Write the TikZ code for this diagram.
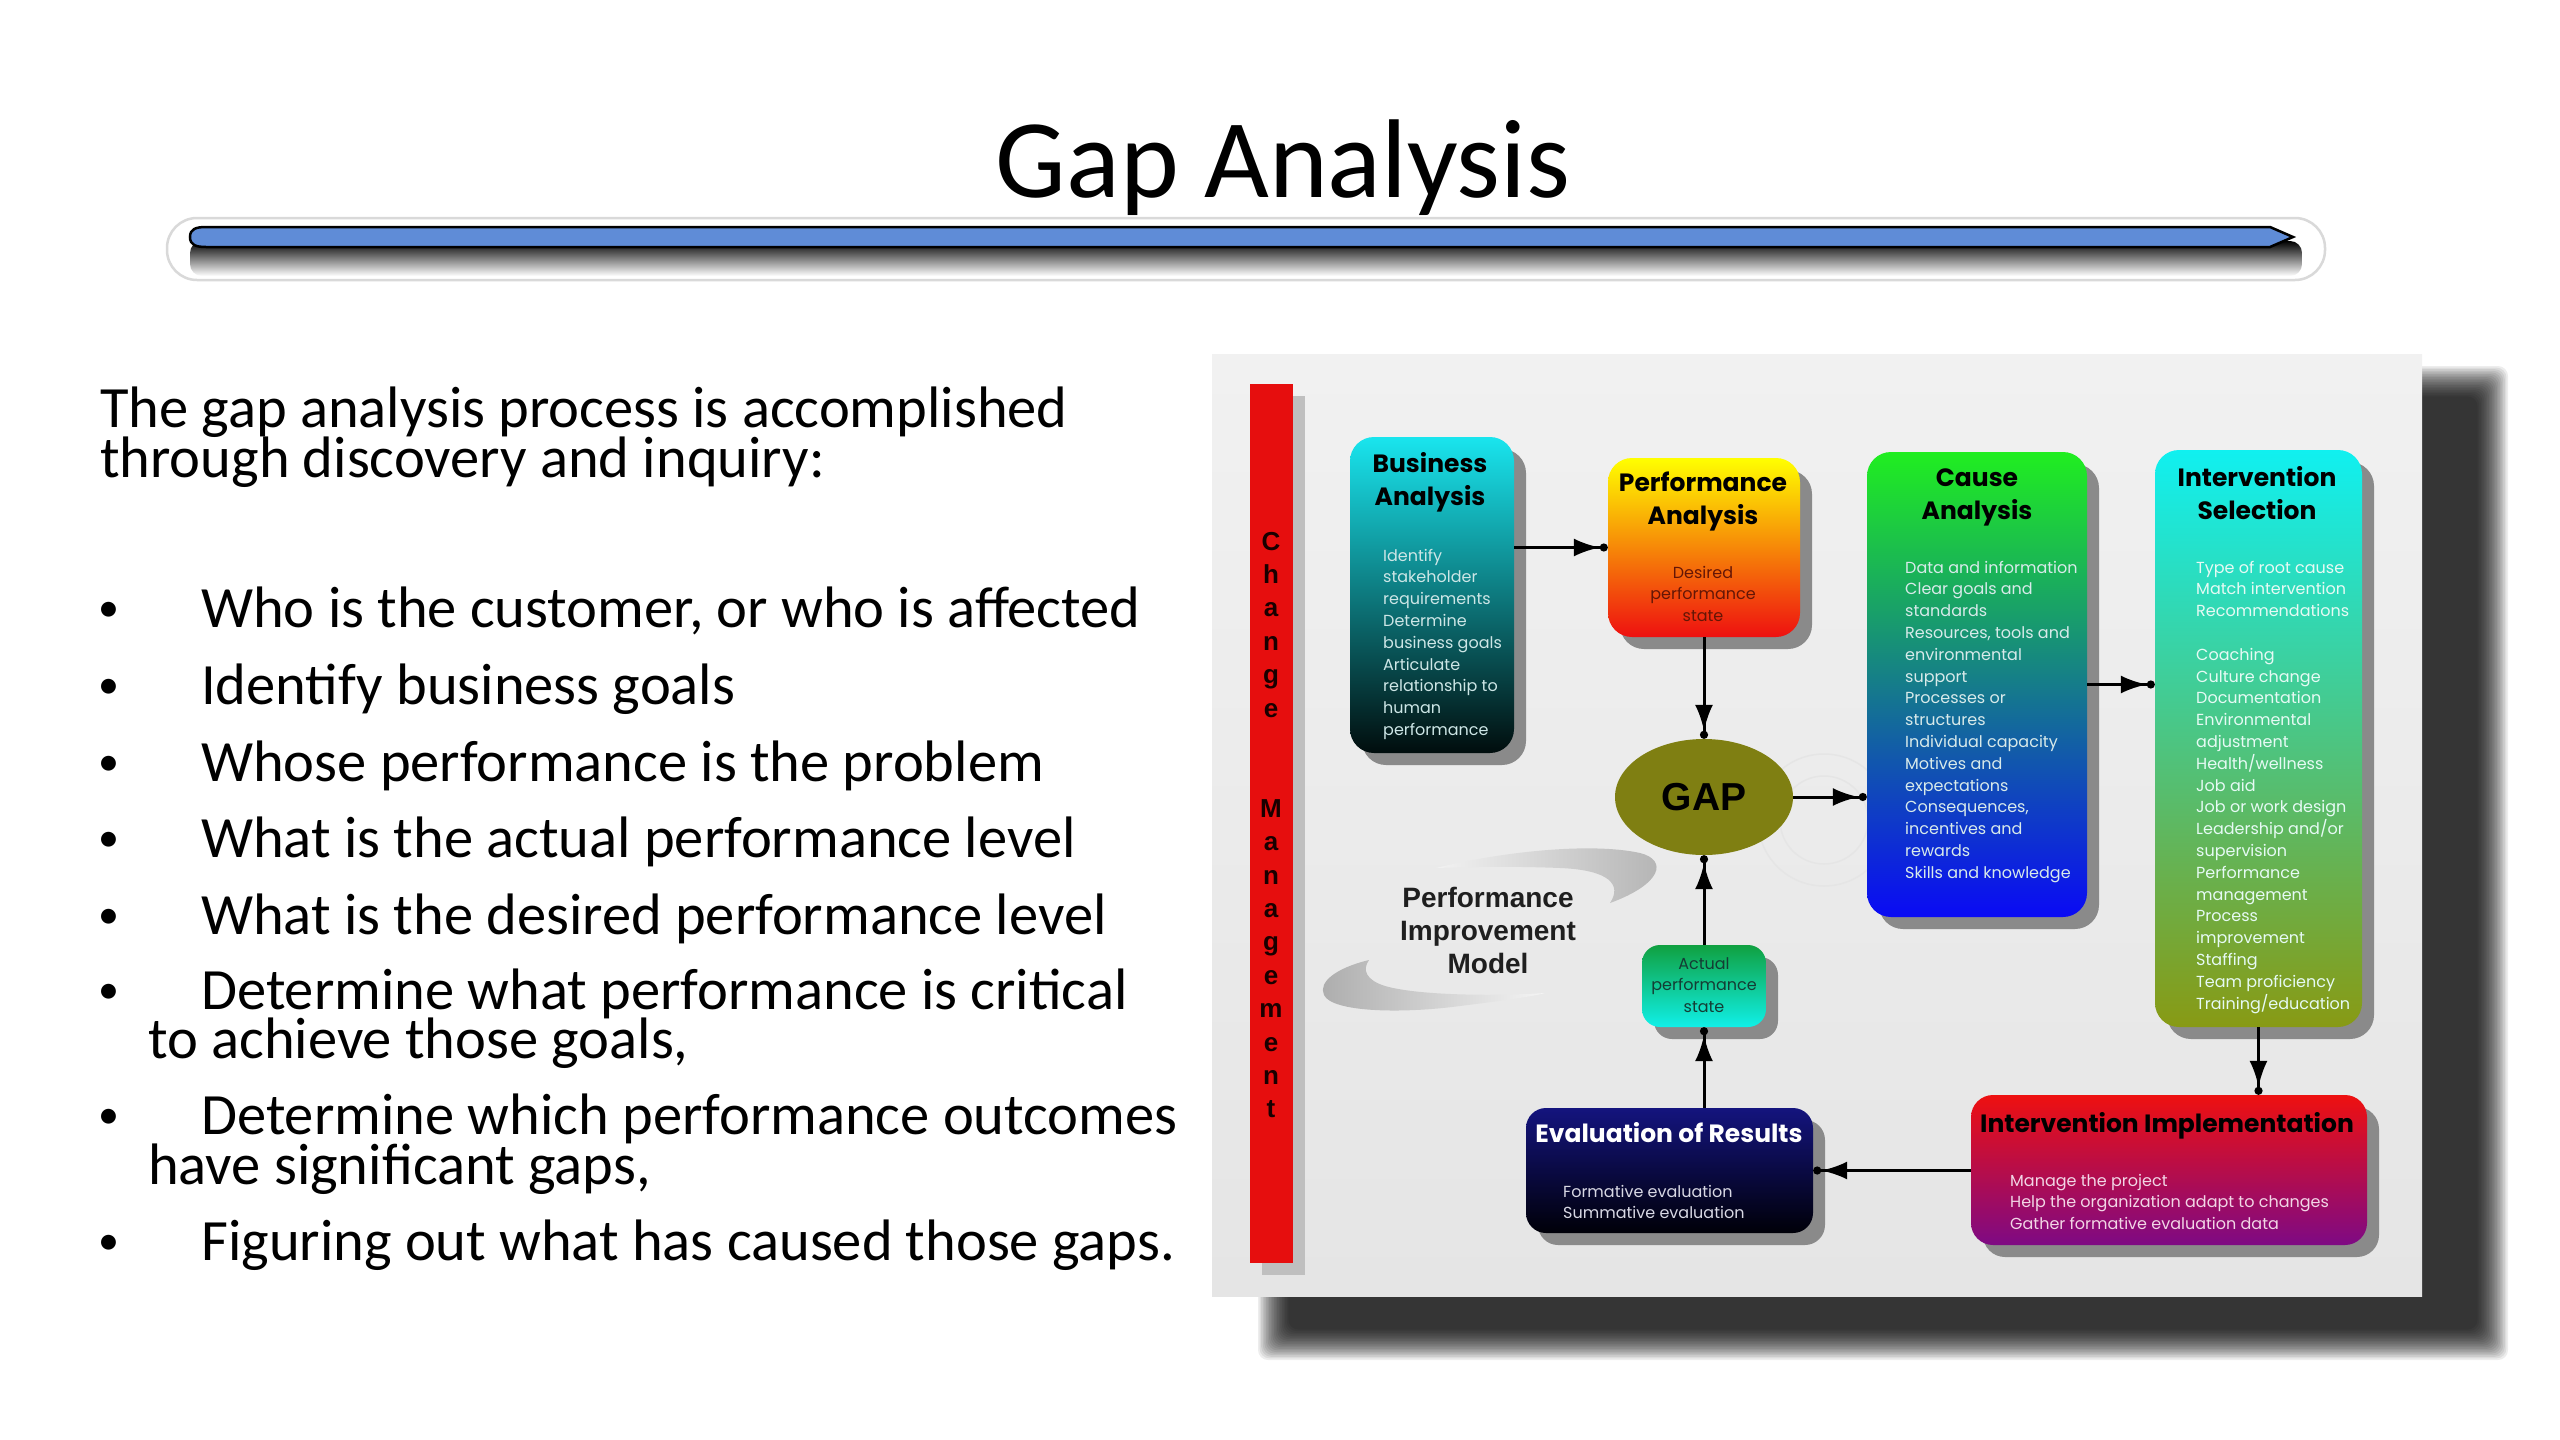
\documentclass[tikz,border=0pt]{standalone}
\usepackage{fontspec}
\setmainfont{Carlito}
\newfontfamily\pop{Poppins}
\newfontfamily\ari{Liberation Sans}
\usetikzlibrary{shapes.geometric,arrows.meta,shadows,calc}
\definecolor{barblue}{RGB}{95,140,215}
\definecolor{panelt}{HTML}{F1F1F1}
\definecolor{panelb}{HTML}{E5E5E5}
\definecolor{redbar}{HTML}{E60E0E}
\definecolor{gapcol}{HTML}{7F7F12}
\definecolor{baT}{HTML}{19E5EE}\definecolor{baM}{HTML}{0B7C84}\definecolor{baB}{HTML}{010D0D}
\definecolor{paT}{HTML}{FFFF00}\definecolor{paM}{HTML}{FF8C1A}\definecolor{paB}{HTML}{EE1010}
\definecolor{caT}{HTML}{20EE20}\definecolor{caM}{HTML}{0A7078}\definecolor{caB}{HTML}{0A0AF5}
\definecolor{isT}{HTML}{10F0F0}\definecolor{isM}{HTML}{40BC8C}\definecolor{isB}{HTML}{889A14}
\definecolor{acT}{HTML}{10A040}\definecolor{acB}{HTML}{10F0E8}
\definecolor{evT}{HTML}{14147E}\definecolor{evB}{HTML}{000008}
\definecolor{imT}{HTML}{EE1010}\definecolor{imM}{HTML}{CC1044}\definecolor{imB}{HTML}{7E0A84}
\definecolor{batxt}{HTML}{CDE6E6}
\definecolor{catxt}{HTML}{D8EAEA}
\definecolor{istxt}{HTML}{E6FAF4}
\definecolor{patxt}{HTML}{641606}
\definecolor{actxt}{HTML}{143C34}
\definecolor{evtxt}{HTML}{D8D8E4}
\definecolor{imtxt}{HTML}{F2D6E6}
\begin{document}
\begin{tikzpicture}[x=1pt,y=-1pt,
  lt/.style={anchor=base west, inner sep=0pt, font=\fontsize{58.5}{60}\selectfont},
  bl/.style={anchor=base west, inner sep=0pt, font=\fontsize{42}{42}\selectfont},
  box/.style={draw=none, rounded corners=24pt, inner sep=0pt,
    drop shadow={shadow xshift=12pt, shadow yshift=-12pt, fill=black!46, opacity=1}},
  ttl/.style={anchor=base, align=center, inner sep=0pt, font=\pop\bfseries\fontsize{25}{33}\selectfont},
  bdy/.style={anchor=base west, align=left, inner sep=0pt, font=\pop\fontsize{16}{21.8}\selectfont},
  bdyc/.style={anchor=base, align=center, inner sep=0pt, font=\pop\fontsize{16}{21.8}\selectfont},
  arr/.style={line width=3pt, -{Latex[length=26pt,width=18pt] Circle[length=8pt]}},
  cml/.style={anchor=base, inner sep=0pt, text=black!90!red, font=\ari\bfseries\fontsize{26}{26}\selectfont}
]
\useasboundingbox (0,0) rectangle (2560,1440);
\fill[white] (0,0) rectangle (2560,1440);

% ---------- title ----------
\node[anchor=base, inner sep=0pt, font=\fontsize{112}{112}\selectfont] (title) at (1283,197) {Gap Analysis};

% ---------- title bar ----------
\draw[gray!30, line width=2.5pt, fill=white, rounded corners=30pt] (167,218) rectangle (2325,280);
\shade[top color=black, bottom color=white, rounded corners=12pt] (190,241) rectangle (2302,276);
\filldraw[fill=barblue, draw=black, line width=2.5pt]
  (190,237) .. controls (190,229) and (196,227) .. (206,227) -- (2270,227) -- (2293,237)
  -- (2270,247) -- (206,247) .. controls (196,247) and (190,245) .. (190,237) -- cycle;

% ---------- left text ----------
\node[lt] (p1) at (100,427) {The gap analysis process is accomplished};
\node[lt] (p2) at (100,477) {through discovery and inquiry:};
\foreach \y/\n in {627/1,704/2,781/3,857/4,934/5,1009/6,1134/7,1260/8}
  \node[bl] (bul\n) at (98,\y-6) {•};
\node[lt] (t1) at (201,627) {Who is the customer, or who is affected};
\node[lt] (t2) at (201,704) {Identify business goals};
\node[lt] (t3) at (201,781) {Whose performance is the problem};
\node[lt] (t4) at (201,857) {What is the actual performance level};
\node[lt] (t5) at (201,934) {What is the desired performance level};
\node[lt] (t6) at (201,1009) {Determine what performance is critical};
\node[lt] (t6b) at (148,1058) {to achieve those goals,};
\node[lt] (t7) at (201,1134) {Determine which performance outcomes};
\node[lt] (t7b) at (148,1184) {have significant gaps,};
\node[lt] (t8) at (201,1260) {Figuring out what has caused those gaps.};

% ---------- panel shadow (soft edge) ----------
\foreach \i in {0,...,19}
  \fill[black, opacity=0.07, rounded corners=10pt] (1258+\i*1.6, 366+\i*1.6) rectangle (2508-\i*1.6, 1360-\i*1.6);
% ---------- panel ----------
\shade[top color=panelt, bottom color=panelb] (1212,354) rectangle (2422,1296);
\draw[white!80!gray, line width=1.5pt] (1824,820) circle[radius=44];
\draw[white!80!gray, line width=1.5pt] (1824,820) circle[radius=66];

% ---------- change management bar ----------
\fill[gray!50] (1262,396) rectangle (1305,1275);
\node[fill=redbar, minimum width=43pt, minimum height=879pt, inner sep=0pt] (cmbar) at (1271.5,823.5) {};
\foreach \l/\k in {C/0,h/1,a/2,n/3,g/4,e/5,M/8,a/9,n/10,a/11,g/12,e/13,m/14,e/15,n/16,t/17}
  \node[cml] (cm\k) at (1271,550+33.4*\k) {\l};

% ---------- swooshes ----------
\shade[left color=gray!10, right color=gray!60]
  (1436,868) .. controls (1500,852) and (1590,842) .. (1640,853)
  .. controls (1668,860) and (1662,884) .. (1610,903)
  .. controls (1622,885) and (1610,870) .. (1560,868)
  .. controls (1510,866) and (1466,867) .. (1436,868) -- cycle;
\shade[left color=gray!65, right color=gray!8]
  (1369,960) .. controls (1336,968) and (1318,982) .. (1324,995)
  .. controls (1332,1012) and (1400,1014) .. (1460,1006)
  .. controls (1500,1001) and (1530,997) .. (1545,993)
  .. controls (1500,996) and (1420,996) .. (1385,986)
  .. controls (1366,980) and (1362,970) .. (1369,960) -- cycle;
% multi-line nodes: anchor=base is the baseline of the LAST line
\node[anchor=base, align=center, inner sep=0pt, text=black!88, font=\ari\bfseries\fontsize{28}{33}\selectfont] (pim) at (1488,973) {Performance\\Improvement\\Model};

% ---------- boxes ----------
\node[box, minimum width=164pt, minimum height=316pt, top color=baT, middle color=baM, bottom color=baB] (BA) at (1432,595) {};
\node[box, minimum width=192pt, minimum height=179pt, top color=paT, middle color=paM, bottom color=paB] (PA) at (1704,547.5) {};
\node[box, minimum width=220pt, minimum height=465pt, top color=caT, middle color=caM, bottom color=caB] (CA) at (1977,684.5) {};
\node[box, minimum width=207pt, minimum height=577pt, top color=isT, middle color=isM, bottom color=isB] (IS) at (2258.5,738.5) {};
\node[box, rounded corners=18pt, minimum width=124pt, minimum height=82pt, top color=acT, bottom color=acB] (AC) at (1704,986) {};
\node[box, rounded corners=20pt, minimum width=287pt, minimum height=125pt, top color=evT, bottom color=evB] (EV) at (1669.5,1170.5) {};
\node[box, rounded corners=22pt, minimum width=396pt, minimum height=150pt, top color=imT, middle color=imM, bottom color=imB] (IM) at (2169,1170) {};
\node[ellipse, fill=gapcol, minimum width=178pt, minimum height=116pt, inner sep=0pt, font=\ari\bfseries\fontsize{39}{39}\selectfont] (GAP) at (1704,797) {GAP};

% ---------- box texts (y = baseline of last line) ----------
\node[ttl] (BAt) at (1430,505) {Business\\Analysis};
\node[bdy, text=batxt] (BAb) at (1383,735.4) {Identify\\stakeholder\\requirements\\Determine\\business goals\\Articulate\\relationship to\\human\\performance};
\node[ttl] (PAt) at (1703,524) {Performance\\Analysis};
\node[bdyc, text=patxt] (PAb) at (1703,621.6) {Desired\\performance\\state};
\node[ttl] (CAt) at (1977,519) {Cause\\Analysis};
\node[bdy, text=catxt] (CAb) at (1905,878.2) {Data and information\\Clear goals and\\standards\\Resources, tools and\\environmental\\support\\Processes or\\structures\\Individual capacity\\Motives and\\expectations\\Consequences,\\incentives and\\rewards\\Skills and knowledge};
\node[ttl] (ISt) at (2257,519) {Intervention\\Selection};
\node[bdy, text=istxt] (ISb) at (2196,1009) {Type of root cause\\Match intervention\\Recommendations\\[21.8pt]Coaching\\Culture change\\Documentation\\Environmental\\adjustment\\Health/wellness\\Job aid\\Job or work design\\Leadership and/or\\supervision\\Performance\\management\\Process\\improvement\\Staffing\\Team proficiency\\Training/education};
\node[bdyc, text=actxt] (ACb) at (1704,1012.6) {Actual\\performance\\state};
\node[ttl, text=white] (EVt) at (1669,1142) {Evaluation of Results};
\node[bdy, text=evtxt] (EVb) at (1563,1218.8) {Formative evaluation\\Summative evaluation};
\node[ttl] (IMt) at (2167,1132) {Intervention Implementation};
\node[bdy, text=imtxt] (IMb) at (2010,1229.6) {Manage the project\\Help the organization adapt to changes\\Gather formative evaluation data};

% ---------- connectors ----------
\draw[arr] (BA.east |- PA.west) -- (PA.west);
\draw[arr] (PA.south) -- (GAP.north);
\draw[arr] (GAP.east) -- (GAP.east -| CA.west);
\draw[arr] (CA.east) -- (CA.east -| IS.west);
\draw[arr] (IS.south) -- (IS.south |- IM.north);
\draw[arr] (IM.west |- EV.east) -- (EV.east);
\draw[arr] (AC.south |- EV.north) -- (AC.south);
\draw[arr] (AC.north) -- (GAP.south);
\end{tikzpicture}
\end{document}
